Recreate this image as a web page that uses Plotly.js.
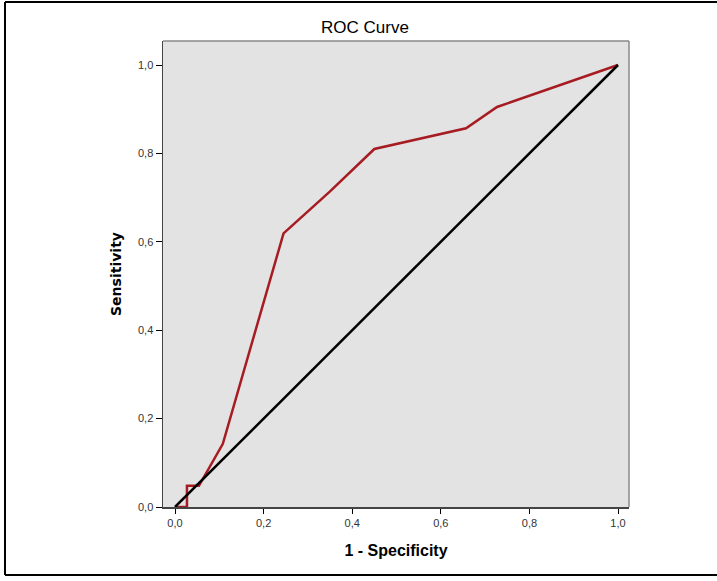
<!DOCTYPE html>
<html>
<head>
<meta charset="utf-8">
<script src="https://cdn.plot.ly/plotly-3.0.1.min.js"></script>
<style>html,body{margin:0;padding:0;background:#fff;}#chart{width:717px;height:581px;}</style>
</head>
<body>
<div id="chart"></div>
<script>
// ROC curve data (1 - Specificity, Sensitivity)
const rocFpr = [0, 0.027, 0.027, 0.054, 0.108, 0.245, 0.35, 0.45, 0.657, 0.727, 1];
const rocTpr = [0, 0, 0.048, 0.048, 0.143, 0.619, 0.714, 0.81, 0.857, 0.905, 1];
// Reference diagonal
const refX = [0, 1];
const refY = [0, 1];
// Ticks
const tickVals = [0, 0.2, 0.4, 0.6, 0.8, 1.0];
const tickText = ['0,0', '0,2', '0,4', '0,6', '0,8', '1,0'];

const traces = [
  {x: rocFpr, y: rocTpr, type: 'scatter', mode: 'lines', line: {color: '#a61c22', width: 2.5}, hoverinfo: 'skip', cliponaxis: false},
  {x: refX, y: refY, type: 'scatter', mode: 'lines', line: {color: '#000000', width: 2.5}, hoverinfo: 'skip', cliponaxis: false}
];

const W = 717, H = 581;
const L = 163, R = 88, T = 41, B = 74;
const pw = W - L - R, ph = H - T - B;
function px(x){ return (x - L) / pw; }
function py(y){ return (H - B - y) / ph; }

const layout = {
  width: W, height: H,
  margin: {l: L, r: R, t: T, b: B, pad: 0},
  paper_bgcolor: '#ffffff',
  plot_bgcolor: '#e3e3e3',
  showlegend: false,
  title: {text: 'ROC Curve', x: 0.509, xanchor: 'center', y: 1 - 27/H, yanchor: 'middle',
          font: {family: 'Liberation Sans, Arial, sans-serif', size: 17, color: '#000'}},
  xaxis: {
    range: [-12/443, (pw - 12)/443], tickvals: tickVals, ticktext: tickText,
    showgrid: false, zeroline: false, showline: true, linecolor: '#444', linewidth: 1.5, mirror: false,
    ticks: 'outside', ticklen: 5, tickcolor: '#000', tickwidth: 1,
    tickfont: {family: 'Liberation Sans, Arial, sans-serif', size: 11, color: '#333'},
    title: {text: '1 - Specificity', standoff: 17, font: {family: 'Liberation Sans, Arial, sans-serif', size: 16, color: '#000', weight: 'bold'}},
    fixedrange: true
  },
  yaxis: {
    range: [0, ph/442], tickvals: tickVals, ticktext: tickText,
    showgrid: false, zeroline: false, showline: true, linecolor: '#444', linewidth: 1.5, mirror: false,
    ticks: 'outside', ticklen: 6, tickcolor: '#000', tickwidth: 1,
    tickfont: {family: 'Liberation Sans, Arial, sans-serif', size: 11, color: '#333'},
    title: {text: 'Sensitivity', standoff: 13, font: {family: 'DejaVu Sans, sans-serif', size: 14, color: '#000', weight: 'bold'}},
    fixedrange: true
  },
  shapes: [
    // plot frame (top & right, gray)
    {type: 'line', xref: 'paper', yref: 'paper', x0: 0, x1: 1, y0: 1, y1: 1, line: {color: '#8a8a8a', width: 1.5}},
    {type: 'line', xref: 'paper', yref: 'paper', x0: 1, x1: 1, y0: 0, y1: 1, line: {color: '#8a8a8a', width: 1.5}},
    // outer figure border
    {type: 'line', xref: 'paper', yref: 'paper', x0: px(5), x1: px(5), y0: py(2), y1: py(575), line: {color: '#000', width: 2}},
    {type: 'line', xref: 'paper', yref: 'paper', x0: px(5), x1: px(717), y0: py(2), y1: py(2), line: {color: '#000', width: 2}},
    {type: 'line', xref: 'paper', yref: 'paper', x0: px(5), x1: px(717), y0: py(575), y1: py(575), line: {color: '#000', width: 2}}
  ]
};

Plotly.newPlot('chart', traces, layout, {displayModeBar: false, staticPlot: true});
</script>
</body>
</html>
